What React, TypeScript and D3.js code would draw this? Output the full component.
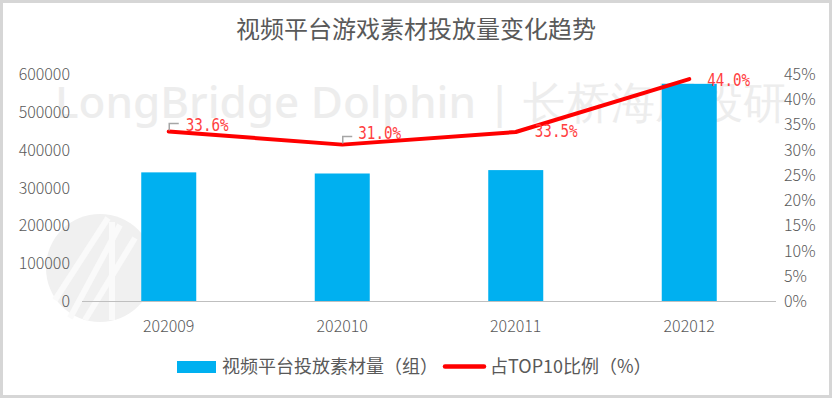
import React from "react";
import * as d3 from "d3";

const categories = ["202009", "202010", "202011", "202012"];
const volumes = [340000, 337000, 346000, 574000];
const shares = [33.6, 31.0, 33.5, 44.0];
const shareLabels = ["33.6%", "31.0%", "33.5%", "44.0%"];
const leftTicks = [0, 100000, 200000, 300000, 400000, 500000, 600000];
const rightTicks = [0, 5, 10, 15, 20, 25, 30, 35, 40, 45];
const title = "视频平台游戏素材投放量变化趋势";
const legendBar = "视频平台投放素材量（组）";
const legendLine = "占TOP10比例（%）";
const watermark = "LongBridge Dolphin | 长桥海豚投研";

const W = 832, H = 398;
const plotLeft = 82, plotRight = 776, plotTop = 74, plotBottom = 301;
const FONT = "'Noto Sans CJK SC', 'Noto Sans', sans-serif";

export default function App() {
  const x = d3.scaleBand<string>().domain(categories).range([plotLeft, plotRight]).paddingInner(0).paddingOuter(0);
  const yL = d3.scaleLinear().domain([0, 600000]).range([plotBottom, plotTop]);
  const yR = d3.scaleLinear().domain([0, 45]).range([plotBottom, plotTop]);
  const barW = 55;
  const cx = (c: string) => (x(c) as number) + x.bandwidth() / 2;
  const line = d3.line<number>().x((_, i) => cx(categories[i])).y((d) => yR(d));
  const labelOffsets = [
    { dx: 17, dy: -1, lead: true },
    { dx: 16, dy: -6, lead: true },
    { dx: 19, dy: 5, lead: false },
    { dx: 18, dy: 7, lead: false },
  ];
  return (
    <svg width={W} height={H} style={{ position: "absolute", left: 0, top: 0, background: "#fff" }} fontFamily={FONT}>
      <rect x={1.5} y={1.5} width={W - 3} height={H - 3} fill="#fff" stroke="#d6d6d6" strokeWidth={3} />
      {/* watermark */}
      <g>
        <circle cx={100} cy={268} r={54} fill="#f0f0f0" />
        <g stroke="#fafafa" strokeWidth={6} fill="none">
          <path d="M70,318 L120,225" />
          <path d="M85,320 L135,238" />
          <path d="M55,300 L108,218" />
          <path d="M112,222 V320" />
        </g>
        <text x={55} y={118} fontSize={44} fill="#ededed" fontFamily="'Noto Sans', sans-serif" fontWeight={500}>{watermark}</text>
      </g>
      <text x={W / 2} y={38} textAnchor="middle" fontSize={24} fill="#595959">{title}</text>
      {/* bars */}
      {categories.map((c, i) => (
        <rect key={c} x={cx(c) - barW / 2} y={yL(volumes[i])} width={barW} height={plotBottom - yL(volumes[i])} fill="#00b0f0" />
      ))}
      {/* axis line */}
      <line x1={plotLeft} x2={plotRight} y1={plotBottom + 0.5} y2={plotBottom + 0.5} stroke="#bfbfbf" strokeWidth={1} />
      {/* left ticks */}
      {leftTicks.map((t) => (
        <text key={t} x={70} y={yL(t) + 6} textAnchor="end" fontSize={16} fill="#595959" fontWeight={300}>{t}</text>
      ))}
      {rightTicks.map((t) => (
        <text key={t} x={784} y={yR(t) + 6} textAnchor="start" fontSize={16} fill="#595959" fontWeight={300}>{t}%</text>
      ))}
      {categories.map((c) => (
        <text key={c} x={cx(c)} y={plotBottom + 31} textAnchor="middle" fontSize={16} fill="#595959" fontWeight={300}>{c}</text>
      ))}
      {/* line */}
      <path d={line(shares) || ""} fill="none" stroke="#ff0000" strokeWidth={4} strokeLinejoin="round" strokeLinecap="round" />
      {/* labels */}
      {shares.map((s, i) => {
        const px = cx(categories[i]);
        const py = yR(s);
        const o = labelOffsets[i];
        return (
          <g key={i}>
            {o.lead && (
              <path d={`M${px + 0.5},${py - 1} V${py - 8} H${px + 10}`} fill="none" stroke="#a6a6a6" strokeWidth={1.5} />
            )}
            <text transform={`translate(${px + o.dx},${py + o.dy}) scale(0.95,1.2)`} fontSize={15} fill="#ff4040" fontFamily="'DejaVu Sans Mono', monospace" fontWeight={300}>{shareLabels[i]}</text>
          </g>
        );
      })}
      {/* legend */}
      <rect x={177} y={361} width={39} height={12} fill="#00b0f0" />
      <text x={222} y={373} fontSize={18} fill="#595959">{legendBar}</text>
      <line x1={445} x2={484} y1={366.5} y2={366.5} stroke="#ff0000" strokeWidth={4.5} strokeLinecap="round" />
      <text x={490} y={373} fontSize={18} fill="#595959">{legendLine}</text>
    </svg>
  );
}
